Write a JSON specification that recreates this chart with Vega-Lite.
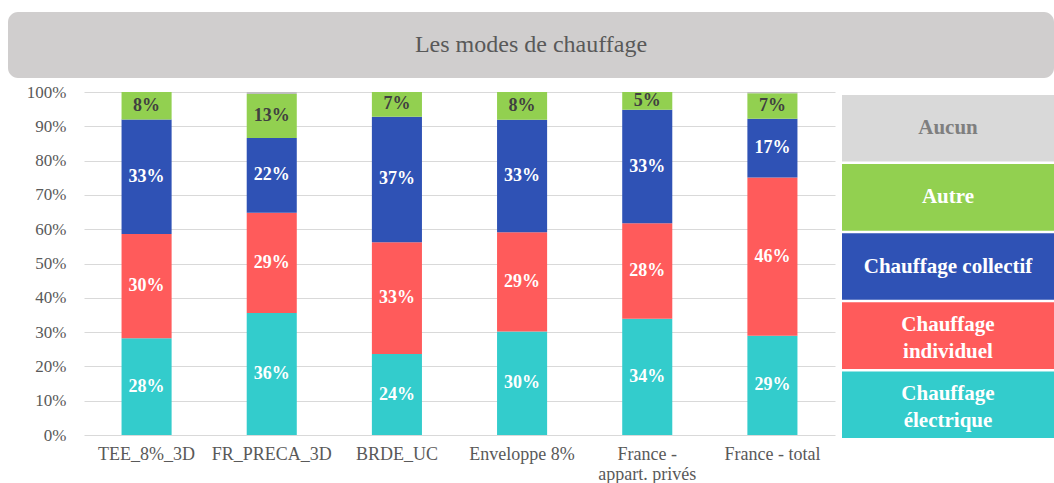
{
  "$schema": "https://vega.github.io/schema/vega-lite/v6.json",
  "padding": {"left": 8, "top": 12, "right": 0, "bottom": 0},
  "background": "white",
  "config": {
    "view": {"stroke": null},
    "font": "Liberation Serif",
    "axisY": {
      "title": null, "values": [0, 0.1, 0.2, 0.3, 0.4, 0.5, 0.6, 0.7, 0.8, 0.9, 1],
      "format": ".0%", "grid": true, "gridColor": "#D9D9D9", "gridWidth": 1,
      "domain": false, "ticks": false, "labelPadding": 18, "labelFont": "Liberation Serif",
      "labelFontSize": 17, "labelColor": "#595959", "minExtent": 68, "labelOverlap": false
    }
  },
  "spacing": 5,
  "vconcat": [
    {
      "width": 1046,
      "height": 66,
      "view": {"fill": "#D0CECE", "cornerRadius": 10, "stroke": null},
      "data": {"values": [{"titre": "Les modes de chauffage"}]},
      "mark": {"type": "text", "font": "Liberation Serif", "fontSize": 24, "color": "#595959", "align": "center", "baseline": "middle"},
      "encoding": {"text": {"field": "titre", "type": "nominal"}}
    },
    {
      "hconcat": [
        {
          "width": 1,
          "height": 343,
          "data": {"values": [{"vide": ""}]},
          "mark": {"type": "text"},
          "encoding": {"text": {"field": "vide", "type": "nominal"}}
        },
        {
          "width": 751,
          "height": 343,
          "data": {"values": [
            {"scenario": "TEE_8%_3D", "mode": "Chauffage électrique", "rank": 1, "value": 0.282},
            {"scenario": "TEE_8%_3D", "mode": "Chauffage individuel", "rank": 2, "value": 0.304},
            {"scenario": "TEE_8%_3D", "mode": "Chauffage collectif", "rank": 3, "value": 0.334},
            {"scenario": "TEE_8%_3D", "mode": "Autre", "rank": 4, "value": 0.080},
            {"scenario": "FR_PRECA_3D", "mode": "Chauffage électrique", "rank": 1, "value": 0.356},
            {"scenario": "FR_PRECA_3D", "mode": "Chauffage individuel", "rank": 2, "value": 0.292},
            {"scenario": "FR_PRECA_3D", "mode": "Chauffage collectif", "rank": 3, "value": 0.218},
            {"scenario": "FR_PRECA_3D", "mode": "Autre", "rank": 4, "value": 0.128},
            {"scenario": "FR_PRECA_3D", "mode": "Aucun", "rank": 5, "value": 0.006},
            {"scenario": "BRDE_UC", "mode": "Chauffage électrique", "rank": 1, "value": 0.236},
            {"scenario": "BRDE_UC", "mode": "Chauffage individuel", "rank": 2, "value": 0.326},
            {"scenario": "BRDE_UC", "mode": "Chauffage collectif", "rank": 3, "value": 0.366},
            {"scenario": "BRDE_UC", "mode": "Autre", "rank": 4, "value": 0.072},
            {"scenario": "Enveloppe 8%", "mode": "Chauffage électrique", "rank": 1, "value": 0.302},
            {"scenario": "Enveloppe 8%", "mode": "Chauffage individuel", "rank": 2, "value": 0.289},
            {"scenario": "Enveloppe 8%", "mode": "Chauffage collectif", "rank": 3, "value": 0.328},
            {"scenario": "Enveloppe 8%", "mode": "Autre", "rank": 4, "value": 0.081},
            {"scenario": "France - appart. privés", "mode": "Chauffage électrique", "rank": 1, "value": 0.339},
            {"scenario": "France - appart. privés", "mode": "Chauffage individuel", "rank": 2, "value": 0.278},
            {"scenario": "France - appart. privés", "mode": "Chauffage collectif", "rank": 3, "value": 0.331},
            {"scenario": "France - appart. privés", "mode": "Autre", "rank": 4, "value": 0.052},
            {"scenario": "France - total", "mode": "Chauffage électrique", "rank": 1, "value": 0.289},
            {"scenario": "France - total", "mode": "Chauffage individuel", "rank": 2, "value": 0.462},
            {"scenario": "France - total", "mode": "Chauffage collectif", "rank": 3, "value": 0.171},
            {"scenario": "France - total", "mode": "Autre", "rank": 4, "value": 0.074},
            {"scenario": "France - total", "mode": "Aucun", "rank": 5, "value": 0.004}
          ]},
          "layer": [
            {
              "mark": {"type": "bar"},
              "encoding": {
                "x": {
                  "field": "scenario", "type": "nominal",
                  "sort": ["TEE_8%_3D", "FR_PRECA_3D", "BRDE_UC", "Enveloppe 8%", "France - appart. privés", "France - total"],
                  "scale": {"paddingInner": 0.6, "paddingOuter": 0.3},
                  "axis": {
                    "title": null, "labelAngle": 0, "labelFont": "Liberation Serif", "labelFontSize": 18,
                    "labelColor": "#595959", "domain": false, "ticks": false, "labelPadding": 10,
                    "labelLineHeight": 20, "grid": false, "labelOverlap": false,
                    "labelExpr": "datum.label == 'France - appart. privés' ? ['France -', 'appart. privés'] : datum.label"
                  }
                },
                "y": {
                  "field": "value", "type": "quantitative", "stack": "zero",
                  "scale": {"domain": [0, 1], "nice": false}
                },
                "color": {
                  "field": "mode", "type": "nominal",
                  "scale": {
                    "domain": ["Chauffage électrique", "Chauffage individuel", "Chauffage collectif", "Autre", "Aucun"],
                    "range": ["#33CCCC", "#FF5B5B", "#2F52B5", "#92D050", "#BFBFBF"]
                  },
                  "legend": null
                },
                "order": {"field": "rank", "type": "quantitative", "sort": "ascending"}
              }
            },
            {
              "transform": [
                {"stack": "value", "groupby": ["scenario"], "sort": [{"field": "rank", "order": "ascending"}], "as": ["v0", "v1"]},
                {"fold": ["v0", "v1"], "as": ["edge", "pos"]},
                {"aggregate": [{"op": "mean", "field": "pos", "as": "mid"}], "groupby": ["scenario", "mode", "value", "rank"]},
                {"filter": "datum.mode != 'Aucun'"}
              ],
              "mark": {"type": "text", "font": "Liberation Serif", "fontSize": 18, "fontWeight": "bold", "align": "center", "baseline": "middle"},
              "encoding": {
                "x": {
                  "field": "scenario", "type": "nominal",
                  "sort": ["TEE_8%_3D", "FR_PRECA_3D", "BRDE_UC", "Enveloppe 8%", "France - appart. privés", "France - total"]
                },
                "y": {"field": "mid", "type": "quantitative"},
                "text": {"field": "value", "type": "quantitative", "format": ".0%"},
                "color": {"condition": {"test": "datum.mode == 'Autre'", "value": "#404040"}, "value": "white"}
              }
            }
          ]
        },
        {
          "width": 212,
          "height": 343,
          "data": {"values": [
            {"mode": "Aucun", "label": "Aucun"},
            {"mode": "Autre", "label": "Autre"},
            {"mode": "Chauffage collectif", "label": "Chauffage collectif"},
            {"mode": "Chauffage individuel", "label": "Chauffage\nindividuel"},
            {"mode": "Chauffage électrique", "label": "Chauffage\nélectrique"}
          ]},
          "encoding": {
            "y": {
              "field": "mode", "type": "nominal",
              "sort": ["Aucun", "Autre", "Chauffage collectif", "Chauffage individuel", "Chauffage électrique"],
              "scale": {"paddingInner": 0.037, "paddingOuter": 0},
              "axis": null
            }
          },
          "layer": [
            {
              "mark": {"type": "rect", "yOffset": 3},
              "encoding": {
                "color": {
                  "field": "mode", "type": "nominal",
                  "scale": {
                    "domain": ["Chauffage électrique", "Chauffage individuel", "Chauffage collectif", "Autre", "Aucun"],
                    "range": ["#33CCCC", "#FF5B5B", "#2F52B5", "#92D050", "#D9D9D9"]
                  },
                  "legend": null
                }
              }
            },
            {
              "transform": [{"filter": "datum.mode == 'Aucun' || datum.mode == 'Autre' || datum.mode == 'Chauffage collectif'"}],
              "mark": {"type": "text", "yOffset": 3, "font": "Liberation Serif", "fontSize": 21, "fontWeight": "bold", "align": "center", "baseline": "middle"},
              "encoding": {
                "text": {"field": "label", "type": "nominal"},
                "color": {"condition": {"test": "datum.mode == 'Aucun'", "value": "#7F7F7F"}, "value": "white"}
              }
            },
            {
              "transform": [{"filter": "datum.mode == 'Chauffage individuel' || datum.mode == 'Chauffage électrique'"}],
              "mark": {"type": "text", "yOffset": 3, "dy": -11, "font": "Liberation Serif", "fontSize": 21, "fontWeight": "bold", "lineBreak": "\n", "lineHeight": 27, "align": "center", "baseline": "middle", "color": "white"},
              "encoding": {
                "text": {"field": "label", "type": "nominal"}
              }
            }
          ]
        }
      ],
      "spacing": 7,
      "resolve": {"scale": {"color": "independent"}}
    }
  ]
}
